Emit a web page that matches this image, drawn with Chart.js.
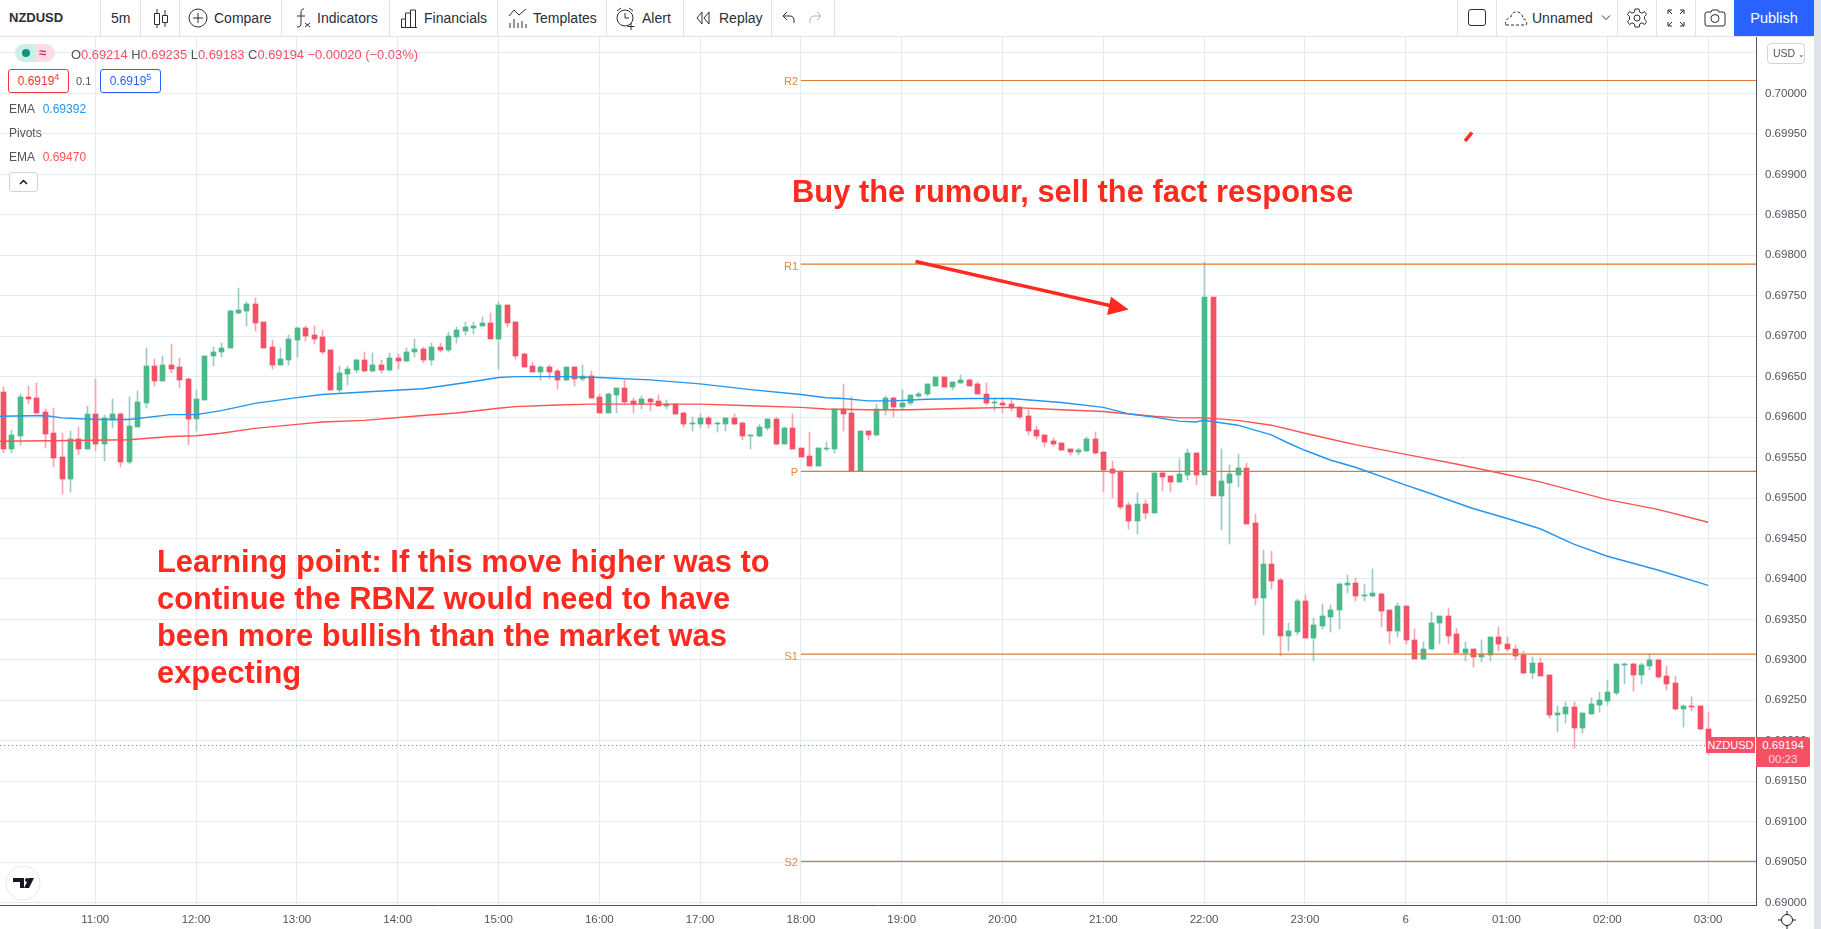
<!DOCTYPE html>
<html>
<head>
<meta charset="utf-8">
<title>NZDUSD 5m</title>
<script src="https://cdn.jsdelivr.net/npm/chart.js@4/dist/chart.umd.min.js"></script>
<style>
    html, body { margin: 0; padding: 0; background: #fff; overflow: hidden; width: 1821px; height: 929px; font-family: "Liberation Sans", sans-serif; color: #131722; }
    #chart { position: absolute; left: 0; top: 0; }
    .abs { position: absolute; white-space: nowrap; }
    #toolbar { position: absolute; left: 0; top: 0; width: 1814px; height: 36px; background: #fff; border-bottom: 1px solid #e0e3eb; box-sizing: content-box; }
    #toolbar .sep { position: absolute; top: 0; width: 1px; height: 36px; background: #e0e3eb; }
    #toolbar .item { position: absolute; top: 10px; font-size: 14px; line-height: 16px; white-space: nowrap; color: #2a2e39; }
    #toolbar svg { position: absolute; fill: none; stroke: #2a2e39; stroke-width: 1; }
    #publish { position: absolute; left: 1734px; top: 0; width: 80px; height: 36px; line-height: 36px; text-align: center; color: #fff; background: #2962ff; font-size: 14.5px; }
    #strip { position: absolute; left: 1814px; top: 0; width: 7px; height: 929px; background: #e0e3eb; }
    .leg { font-size: 12px; line-height: 14px; color: #50535e; }
    .pivot { font-size: 11px; line-height: 12px; color: #e08a42; text-align: right; width: 20px; left: 778px; }
    .note { color: #ff2a1f; font-weight: bold; font-size: 30.9px; line-height: 37px; }
</style>
</head>
<body>
<canvas id="chart" width="1814" height="929"></canvas>

<div id="toolbar">
    <div class="item" style="left:9px;font-weight:bold;font-size:13px">NZDUSD</div>
    <div class="sep" style="left:100px"></div>
    <div class="item" style="left:111px">5m</div>
    <div class="sep" style="left:140px"></div>
    <svg style="left:152px;top:7px" width="18" height="22"><path d="M2.5 6.5h5v11h-5zM5 2v4M5 18v3M10.5 8.5h5v7h-5zM13 3v5M13 16v4"/></svg>
    <div class="sep" style="left:179px"></div>
    <svg style="left:188px;top:8px" width="20" height="20"><circle cx="10" cy="10" r="9"/><path d="M10 5v10M5 10h10"/></svg>
    <div class="item" style="left:214px">Compare</div>
    <div class="sep" style="left:281px"></div>
    <svg style="left:293px;top:6px" width="20" height="24"><path d="M11 3c-3 0-3 2-3 5v9c0 3-1 4-4 4M4 10h8M12 17l5 4M17 17l-5 4"/></svg>
    <div class="item" style="left:317px">Indicators</div>
    <div class="sep" style="left:389px"></div>
    <svg style="left:400px;top:8px" width="18" height="20"><path d="M1.5 19v-8h4v8M5.5 19V5h5v14M10.5 19V2h5v17M1 19.5h16"/></svg>
    <div class="item" style="left:424px">Financials</div>
    <div class="sep" style="left:497px"></div>
    <svg style="left:508px;top:7px" width="20" height="22"><path d="M1 9l5-6 5 5 7-6M2 21v-5M6 21v-9M10 21v-5M14 21v-7M18 21v-4"/></svg>
    <div class="item" style="left:533px">Templates</div>
    <div class="sep" style="left:606px"></div>
    <svg style="left:615px;top:6px" width="22" height="24"><circle cx="10" cy="12" r="8"/><path d="M10 7v5h4M2 5l4-3M14 2l4 3M16 17v7M12.5 20.5h7"/></svg>
    <div class="item" style="left:642px">Alert</div>
    <div class="sep" style="left:683px"></div>
    <svg style="left:695px;top:10px" width="18" height="16"><path d="M7 2L2 8l5 6zM14 2L9 8l5 6z"/></svg>
    <div class="item" style="left:719px">Replay</div>
    <div class="sep" style="left:771px"></div>
    <svg style="left:782px;top:11px" width="14" height="14"><path d="M5 1L1 5l4 4M1 5h7c3 0 4 2 4 5v2"/></svg>
    <svg style="left:808px;top:11px;stroke:#b2b5be" width="14" height="14"><path d="M9 1l4 4-4 4M13 5H6C3 5 2 7 2 10v2"/></svg>
    <div class="sep" style="left:834px"></div>

    <div class="sep" style="left:1457px"></div>
    <svg style="left:1467px;top:8px" width="20" height="20"><rect x="1.5" y="1.5" width="17" height="16" rx="2.5"/></svg>
    <div class="sep" style="left:1496px"></div>
    <svg style="left:1503px;top:8px;stroke-dasharray:3 2" width="26" height="20"><path d="M3 17h20c2-3 0-6-3-6 0-5-4-8-8-7-3 1-4 3-4 5-3 0-7 5-5 8z"/></svg>
    <div class="item" style="left:1532px">Unnamed</div>
    <svg style="left:1601px;top:14px" width="10" height="8"><path d="M1 1.5l4 4 4-4"/></svg>
    <div class="sep" style="left:1617px"></div>
    <svg style="left:1627px;top:8px" width="20" height="20"><circle cx="10" cy="10" r="3"/><path d="M8 1h4l.5 3 2.5 1.2 2.5-1.7 2 3-2 2 .2 3 2 2-2 3-2.700-1.700-2.300 1.200-.5 3H8l-.5-3L5 14.800 2.500 16.500l-2-3 2-2V8.500l-2-2 2-3L5 5.200 7.500 4z"/></svg>
    <div class="sep" style="left:1656px"></div>
    <svg style="left:1667px;top:9px" width="18" height="18"><path d="M1 5V1h4M13 1h4v4M17 13v4h-4M5 17H1v-4M1 1l4 4M17 1l-4 4M17 17l-4-4M1 17l4-4"/></svg>
    <div class="sep" style="left:1695px"></div>
    <svg style="left:1704px;top:8px" width="22" height="20"><path d="M3 4h4l1-2h6l1 2h4a2 2 0 0 1 2 2v10a2 2 0 0 1-2 2H3a2 2 0 0 1-2-2V6a2 2 0 0 1 2-2z"/><circle cx="11" cy="10.500" r="4"/></svg>
    <div id="publish">Publish</div>
</div>
<div id="strip"></div>

<!-- legend block -->
<div class="abs" style="left:15px;top:44px;width:20px;height:18px;background:#cdeee9;border-radius:9px 0 0 9px"></div>
<div class="abs" style="left:35px;top:44px;width:20px;height:18px;background:#fcdce6;border-radius:0 9px 9px 0"></div>
<div class="abs" style="left:22px;top:49px;width:8px;height:8px;background:#089981;border-radius:50%"></div>
<div class="abs" style="left:39px;top:45px;font-size:13px;line-height:16px;font-weight:bold;color:#e91e63">≈</div>
<div class="abs leg" style="left:71px;top:48px;font-size:12.900px;color:#f45066"><span style="color:#50535e">O</span>0.69214 <span style="color:#50535e">H</span>0.69235 <span style="color:#50535e">L</span>0.69183 <span style="color:#50535e">C</span>0.69194 −0.00020 (−0.03%)</div>
<div class="abs leg" style="left:8px;top:69px;width:59px;height:22px;line-height:22px;border:1px solid #f23645;border-radius:3px;color:#f23645;text-align:center;background:#fff">0.6919<sup style="font-size:9px;line-height:0">4</sup></div>
<div class="abs leg" style="left:76px;top:74px;font-size:11px">0.1</div>
<div class="abs leg" style="left:100px;top:69px;width:59px;height:22px;line-height:22px;border:1px solid #2962ff;border-radius:3px;color:#2962ff;text-align:center;background:#fff">0.6919<sup style="font-size:9px;line-height:0">5</sup></div>
<div class="abs leg" style="left:9px;top:102px">EMA <span style="color:#2196f3;margin-left:5px">0.69392</span></div>
<div class="abs leg" style="left:9px;top:126px">Pivots</div>
<div class="abs leg" style="left:9px;top:150px">EMA <span style="color:#ff5252;margin-left:5px">0.69470</span></div>
<svg class="abs" style="left:9px;top:172px" width="29" height="20"><rect x=".5" y=".5" width="28" height="19" rx="2.500" fill="#fff" stroke="#d1d4dc"/><path d="M11 12l3.500-3.500L18 12" fill="none" stroke="#131722" stroke-width="1.500"/></svg>

<!-- pivot labels -->
<div class="abs pivot" style="top:75px">R2</div>
<div class="abs pivot" style="top:260px">R1</div>
<div class="abs pivot" style="top:466px">P</div>
<div class="abs pivot" style="top:650px">S1</div>
<div class="abs pivot" style="top:856px">S2</div>

<!-- drawn annotations -->
<div class="abs note" style="left:792px;top:173px">Buy the rumour, sell the fact response</div>
<div class="abs note" style="left:157px;top:543px">Learning point: If this move higher was to<br>continue the RBNZ would need to have<br>been more bullish than the market was<br>expecting</div>
<svg class="abs" style="left:0;top:0;pointer-events:none" width="1814" height="929">
    <line x1="915.500" y1="261.500" x2="1112" y2="306" stroke="#ff2a1f" stroke-width="3.500"/>
    <path d="M1128.700 309.500L1111 296.700 1107 315z" fill="#ff2a1f"/>
    <line x1="1465" y1="141" x2="1472" y2="132.500" stroke="#ff2a1f" stroke-width="3.500"/>
</svg>

<!-- USD button, price tags, corner -->
<div class="abs" style="left:1767px;top:43px;width:36px;height:19px;border:1px solid #d1d4dc;border-radius:4px;font-size:10.500px;line-height:19px;color:#50535e;background:#fff;text-indent:5px;box-sizing:content-box">USD <span style="font-size:8px">⌄</span></div>
<div class="abs" style="left:1706px;top:737px;width:49px;height:16px;line-height:17px;background:#f45066;color:#fff;font-size:11px;text-align:center">NZDUSD</div>
<div class="abs" style="left:1756px;top:737px;width:54px;height:30px;background:#f45066;color:#fff;font-size:11.500px;line-height:14px;text-align:center;border-radius:0 2px 2px 0;padding-top:1px;box-sizing:border-box">0.69194<br><span style="opacity:.75">00:23</span></div>
<div class="abs" style="left:1757px;top:906px;width:57px;height:23px;background:#fff"></div>
<svg class="abs" style="left:1778px;top:911px" width="18" height="18"><circle cx="9" cy="9" r="5.500" fill="none" stroke="#131722"/><path d="M9 0v3M9 15v3M0 9h3M15 9h3" stroke="#131722"/></svg>
<svg class="abs" style="left:5px;top:866px" width="36" height="36"><circle cx="18" cy="17" r="17" fill="#fff" stroke="#e4e6ea"/><path d="M8 12h11v10h-4v-6H8z" fill="#131722"/><circle cx="22" cy="14" r="2" fill="#131722"/><path d="M24 12h5l-5 10h-5z" fill="#131722"/></svg>

<script>
// time labels on the bottom axis, one per hour
const timeLabels = ["11:00", "12:00", "13:00", "14:00", "15:00", "16:00", "17:00", "18:00", "19:00", "20:00", "21:00", "22:00", "23:00", "6", "01:00", "02:00", "03:00"];
const priceTicks = ["0.70050", "0.70000", "0.69950", "0.69900", "0.69850", "0.69800", "0.69750", "0.69700", "0.69650", "0.69600", "0.69550", "0.69500", "0.69450", "0.69400", "0.69350", "0.69300", "0.69250", "0.69200", "0.69150", "0.69100", "0.69050", "0.69000"];

// 5m candles, first one is 10:05
const opens = [
    0.69631, 0.69561, 0.69577, 0.69625, 0.69623, 0.69606, 0.69580, 0.69551, 0.69524, 0.69573, 0.69561,
    0.69604, 0.69567, 0.69597, 0.69604, 0.69545, 0.69588, 0.69617, 0.69663, 0.69644, 0.69665, 0.69662, 0.69647,
    0.69598, 0.69621, 0.69675, 0.69680, 0.69685, 0.69729, 0.69731, 0.69740, 0.69717, 0.69687, 0.69665, 0.69670,
    0.69695, 0.69710, 0.69701, 0.69699, 0.69683, 0.69633, 0.69653, 0.69658, 0.69670, 0.69657, 0.69665, 0.69658,
    0.69673, 0.69669, 0.69680, 0.69684, 0.69670, 0.69687, 0.69683, 0.69699, 0.69707, 0.69710, 0.69712, 0.69716,
    0.69697, 0.69739, 0.69717, 0.69678, 0.69663, 0.69656, 0.69662, 0.69657, 0.69646, 0.69662, 0.69647, 0.69651,
    0.69625, 0.69605, 0.69627, 0.69636, 0.69620, 0.69616, 0.69622, 0.69620, 0.69614, 0.69616, 0.69605, 0.69592,
    0.69592, 0.69599, 0.69592, 0.69592, 0.69599, 0.69593, 0.69577, 0.69577, 0.69587, 0.69598, 0.69567, 0.69587,
    0.69562, 0.69552, 0.69539, 0.69561, 0.69561, 0.69610, 0.69605, 0.69533, 0.69583, 0.69578, 0.69609, 0.69623,
    0.69613, 0.69617, 0.69626, 0.69628, 0.69639, 0.69650, 0.69637, 0.69642, 0.69646, 0.69641, 0.69629, 0.69617,
    0.69618, 0.69616, 0.69612, 0.69601, 0.69584, 0.69578, 0.69570, 0.69568, 0.69561, 0.69557, 0.69558, 0.69573,
    0.69557, 0.69536, 0.69533, 0.69491, 0.69472, 0.69493, 0.69482, 0.69531, 0.69527, 0.69520, 0.69529, 0.69556,
    0.69529, 0.69749, 0.69503, 0.69519, 0.69529, 0.69537, 0.69469, 0.69377, 0.69418, 0.69399, 0.69329, 0.69335,
    0.69373, 0.69327, 0.69342, 0.69353, 0.69361, 0.69393, 0.69395, 0.69379, 0.69379, 0.69381, 0.69361, 0.69336,
    0.69367, 0.69325, 0.69301, 0.69313, 0.69345, 0.69354, 0.69332, 0.69309, 0.69314, 0.69303, 0.69306, 0.69328,
    0.69320, 0.69314, 0.69306, 0.69284, 0.69296, 0.69281, 0.69232, 0.69233, 0.69242, 0.69216, 0.69233, 0.69244,
    0.69249, 0.69259, 0.69293, 0.69295, 0.69281, 0.69292, 0.69300, 0.69280, 0.69271, 0.69239, 0.69243, 0.69243, 0.69214
];
const highs = [
    0.69637, 0.69584, 0.69628, 0.69639, 0.69642, 0.69610, 0.69611, 0.69580, 0.69583, 0.69588, 0.69614,
    0.69647, 0.69603, 0.69622, 0.69605, 0.69625, 0.69632, 0.69686, 0.69672, 0.69676, 0.69690, 0.69673, 0.69648,
    0.69633, 0.69676, 0.69687, 0.69692, 0.69732, 0.69760, 0.69742, 0.69747, 0.69718, 0.69695, 0.69686, 0.69702,
    0.69711, 0.69713, 0.69712, 0.69708, 0.69683, 0.69663, 0.69663, 0.69672, 0.69681, 0.69679, 0.69670, 0.69679,
    0.69678, 0.69686, 0.69696, 0.69687, 0.69692, 0.69691, 0.69705, 0.69711, 0.69718, 0.69717, 0.69724, 0.69729,
    0.69742, 0.69739, 0.69718, 0.69679, 0.69668, 0.69663, 0.69664, 0.69659, 0.69662, 0.69662, 0.69665, 0.69657,
    0.69628, 0.69630, 0.69636, 0.69646, 0.69624, 0.69626, 0.69624, 0.69627, 0.69621, 0.69616, 0.69606, 0.69600,
    0.69604, 0.69601, 0.69594, 0.69599, 0.69604, 0.69594, 0.69578, 0.69592, 0.69598, 0.69600, 0.69588, 0.69604,
    0.69562, 0.69582, 0.69562, 0.69569, 0.69610, 0.69641, 0.69625, 0.69583, 0.69583, 0.69616, 0.69626, 0.69625,
    0.69633, 0.69627, 0.69631, 0.69641, 0.69650, 0.69650, 0.69643, 0.69652, 0.69647, 0.69643, 0.69642, 0.69623,
    0.69623, 0.69623, 0.69613, 0.69609, 0.69589, 0.69578, 0.69574, 0.69568, 0.69561, 0.69562, 0.69575, 0.69582,
    0.69557, 0.69546, 0.69533, 0.69495, 0.69506, 0.69498, 0.69533, 0.69534, 0.69527, 0.69548, 0.69561, 0.69556,
    0.69792, 0.69749, 0.69560, 0.69541, 0.69554, 0.69543, 0.69480, 0.69436, 0.69434, 0.69401, 0.69346, 0.69375,
    0.69380, 0.69352, 0.69369, 0.69368, 0.69395, 0.69405, 0.69401, 0.69394, 0.69412, 0.69382, 0.69361, 0.69370,
    0.69367, 0.69338, 0.69322, 0.69359, 0.69354, 0.69364, 0.69339, 0.69322, 0.69314, 0.69324, 0.69328, 0.69340,
    0.69328, 0.69318, 0.69311, 0.69304, 0.69302, 0.69281, 0.69243, 0.69248, 0.69248, 0.69234, 0.69253, 0.69260,
    0.69275, 0.69295, 0.69296, 0.69296, 0.69296, 0.69307, 0.69301, 0.69292, 0.69280, 0.69244, 0.69254, 0.69243, 0.69235
];
const lows = [
    0.69556, 0.69556, 0.69566, 0.69616, 0.69605, 0.69562, 0.69538, 0.69505, 0.69508, 0.69553, 0.69561,
    0.69558, 0.69546, 0.69587, 0.69538, 0.69542, 0.69611, 0.69611, 0.69639, 0.69644, 0.69654, 0.69636, 0.69565,
    0.69583, 0.69621, 0.69663, 0.69674, 0.69685, 0.69728, 0.69713, 0.69706, 0.69686, 0.69659, 0.69665, 0.69664,
    0.69674, 0.69694, 0.69690, 0.69678, 0.69633, 0.69630, 0.69640, 0.69654, 0.69656, 0.69656, 0.69654, 0.69657,
    0.69660, 0.69668, 0.69674, 0.69667, 0.69665, 0.69680, 0.69681, 0.69691, 0.69702, 0.69703, 0.69712, 0.69697,
    0.69659, 0.69711, 0.69672, 0.69662, 0.69656, 0.69646, 0.69647, 0.69635, 0.69644, 0.69639, 0.69644, 0.69624,
    0.69605, 0.69605, 0.69605, 0.69616, 0.69605, 0.69610, 0.69608, 0.69614, 0.69610, 0.69604, 0.69588, 0.69583,
    0.69587, 0.69587, 0.69582, 0.69583, 0.69590, 0.69572, 0.69560, 0.69576, 0.69584, 0.69566, 0.69567, 0.69561,
    0.69551, 0.69539, 0.69539, 0.69558, 0.69556, 0.69583, 0.69533, 0.69533, 0.69572, 0.69577, 0.69602, 0.69600,
    0.69609, 0.69615, 0.69623, 0.69626, 0.69638, 0.69637, 0.69634, 0.69642, 0.69639, 0.69628, 0.69615, 0.69607,
    0.69605, 0.69607, 0.69598, 0.69578, 0.69573, 0.69563, 0.69564, 0.69558, 0.69553, 0.69553, 0.69558, 0.69555,
    0.69508, 0.69500, 0.69486, 0.69462, 0.69456, 0.69474, 0.69482, 0.69509, 0.69508, 0.69520, 0.69522, 0.69516,
    0.69529, 0.69503, 0.69460, 0.69443, 0.69513, 0.69468, 0.69368, 0.69331, 0.69388, 0.69305, 0.69311, 0.69331,
    0.69327, 0.69299, 0.69338, 0.69334, 0.69338, 0.69383, 0.69373, 0.69373, 0.69378, 0.69341, 0.69320, 0.69328,
    0.69320, 0.69301, 0.69300, 0.69313, 0.69319, 0.69320, 0.69309, 0.69298, 0.69291, 0.69297, 0.69298, 0.69311,
    0.69311, 0.69300, 0.69282, 0.69276, 0.69280, 0.69228, 0.69211, 0.69222, 0.69191, 0.69209, 0.69233, 0.69236,
    0.69244, 0.69257, 0.69270, 0.69261, 0.69270, 0.69288, 0.69277, 0.69263, 0.69238, 0.69217, 0.69237, 0.69213, 0.69183
];
const closes = [
    0.69561, 0.69578, 0.69625, 0.69622, 0.69605, 0.69579, 0.69549, 0.69524, 0.69573, 0.69561, 0.69604,
    0.69567, 0.69599, 0.69604, 0.69545, 0.69589, 0.69619, 0.69663, 0.69644, 0.69665, 0.69660, 0.69646, 0.69598,
    0.69622, 0.69676, 0.69681, 0.69686, 0.69731, 0.69732, 0.69740, 0.69716, 0.69686, 0.69665, 0.69672, 0.69696,
    0.69710, 0.69700, 0.69697, 0.69681, 0.69633, 0.69654, 0.69659, 0.69670, 0.69657, 0.69665, 0.69658, 0.69673,
    0.69669, 0.69681, 0.69684, 0.69670, 0.69687, 0.69683, 0.69700, 0.69708, 0.69711, 0.69713, 0.69716, 0.69697,
    0.69739, 0.69716, 0.69676, 0.69662, 0.69656, 0.69662, 0.69656, 0.69646, 0.69662, 0.69647, 0.69651, 0.69624,
    0.69605, 0.69628, 0.69636, 0.69619, 0.69616, 0.69622, 0.69619, 0.69614, 0.69616, 0.69604, 0.69592, 0.69593,
    0.69599, 0.69592, 0.69593, 0.69599, 0.69592, 0.69577, 0.69578, 0.69588, 0.69598, 0.69567, 0.69587, 0.69561,
    0.69551, 0.69539, 0.69562, 0.69562, 0.69610, 0.69604, 0.69533, 0.69583, 0.69578, 0.69610, 0.69623, 0.69613,
    0.69618, 0.69627, 0.69629, 0.69641, 0.69650, 0.69637, 0.69643, 0.69646, 0.69639, 0.69628, 0.69617, 0.69618,
    0.69615, 0.69611, 0.69600, 0.69583, 0.69577, 0.69569, 0.69567, 0.69559, 0.69557, 0.69559, 0.69573, 0.69556,
    0.69535, 0.69531, 0.69489, 0.69472, 0.69493, 0.69482, 0.69531, 0.69526, 0.69520, 0.69530, 0.69556, 0.69529,
    0.69749, 0.69503, 0.69521, 0.69530, 0.69537, 0.69468, 0.69377, 0.69418, 0.69398, 0.69329, 0.69336, 0.69373,
    0.69327, 0.69343, 0.69354, 0.69362, 0.69394, 0.69395, 0.69379, 0.69380, 0.69382, 0.69360, 0.69336, 0.69367,
    0.69324, 0.69301, 0.69314, 0.69346, 0.69354, 0.69330, 0.69309, 0.69314, 0.69303, 0.69307, 0.69328, 0.69319,
    0.69313, 0.69305, 0.69284, 0.69296, 0.69280, 0.69232, 0.69234, 0.69242, 0.69216, 0.69234, 0.69245, 0.69250,
    0.69260, 0.69295, 0.69295, 0.69281, 0.69293, 0.69300, 0.69279, 0.69270, 0.69239, 0.69243, 0.69242, 0.69215, 0.69194
];

// EMAs read at candle numbers (0 = 11:00 candle)
const emaBlueAt = [-12, -6, -4, 0, 4, 9, 12, 15, 19, 24, 27, 32, 39, 45, 48, 50, 56, 60, 66, 72, 78, 84, 87, 89, 92, 95, 99, 104, 109, 115, 120, 123, 126, 129, 131, 132, 134, 136, 140, 142, 144, 147, 150, 156, 158, 164, 168, 172, 176, 180, 186, 192];
const emaBlue = [0.69601, 0.69602, 0.69599, 0.69597, 0.69597, 0.69603, 0.69603, 0.69608, 0.69617, 0.69624, 0.69628, 0.69631, 0.69635, 0.69644, 0.69649, 0.69650, 0.69650, 0.69649, 0.69646, 0.69641, 0.69634, 0.69628, 0.69624, 0.69623, 0.69620, 0.69620, 0.69622, 0.69623, 0.69623, 0.69618, 0.69612, 0.69604, 0.69600, 0.69595, 0.69594, 0.69596, 0.69593, 0.69590, 0.69578, 0.69568, 0.69559, 0.69547, 0.69538, 0.69516, 0.69509, 0.69487, 0.69475, 0.69462, 0.69443, 0.69428, 0.69411, 0.69392];
const emaRedAt = [-12, -3, 4, 9, 12, 15, 19, 24, 27, 32, 39, 43, 48, 50, 55, 59, 66, 72, 78, 84, 87, 92, 97, 104, 109, 115, 120, 126, 129, 132, 136, 140, 144, 147, 150, 156, 162, 168, 172, 180, 186, 192];
const emaRed = [0.69570, 0.69571, 0.69572, 0.69576, 0.69577, 0.69580, 0.69586, 0.69591, 0.69594, 0.69596, 0.69602, 0.69605, 0.69611, 0.69613, 0.69615, 0.69616, 0.69616, 0.69616, 0.69614, 0.69612, 0.69610, 0.69609, 0.69609, 0.69611, 0.69612, 0.69609, 0.69607, 0.69601, 0.69599, 0.69599, 0.69596, 0.69590, 0.69580, 0.69573, 0.69566, 0.69554, 0.69542, 0.69529, 0.69520, 0.69498, 0.69486, 0.69470];

const pivotNames = ["R2", "R1", "P", "S1", "S2"];
const pivotValues = [0.70016, 0.69789, 0.69533, 0.69307, 0.69051];
const lastPrice = 0.69194;

const UP = "#4bb98a";
const DOWN = "#f45066";
const UP_WICK = "#9dc9c6";
const DOWN_WICK = "#f8a3ae";
const GRID = "#e2ebf1";
const AXIS_TEXT = "#50535e";

const FIRST_CANDLE = -11;
const PIVOT_START = 84;
const X_MIN = -11.34;
const X_MAX = 197.7;

const isUp = i => closes[i] >= opens[i];
const candleX = i => i + FIRST_CANDLE;

// TradingView snaps candles to whole pixels, so do the same
const snapCandles = {
    id: "snapCandles",
    afterDatasetsUpdate(chart) {
        chart.data.datasets.forEach((ds, d) => {
            if (ds.type !== "bar") return;
            chart.getDatasetMeta(d).data.forEach(bar => {
                bar.x = Math.round(bar.x) + 0.5;
                bar.y = Math.round(bar.y);
                bar.base = Math.round(bar.base);
                if (bar.y === bar.base) bar.base = bar.y + 1;
            });
        });
    }
};

const wickData = highs.map((h, i) => ({ x: candleX(i), y: [lows[i], h] }));
const bodyData = opens.map((o, i) => ({ x: candleX(i), y: [o, closes[i]] }));

const lineStyle = { type: "line", pointRadius: 0, tension: 0, fill: false, order: 0 };

const datasets = [
    { ...lineStyle, label: "EMA blue", data: emaBlue.map((v, i) => ({ x: emaBlueAt[i], y: v })), borderColor: "#2196f3", borderWidth: 1.4 },
    { ...lineStyle, label: "EMA red", data: emaRed.map((v, i) => ({ x: emaRedAt[i], y: v })), borderColor: "#ff5252", borderWidth: 1.4 },
    { ...lineStyle, label: "Last price", data: [{ x: X_MIN, y: lastPrice }, { x: X_MAX, y: lastPrice }], borderColor: DOWN, borderWidth: 1, borderDash: [1, 3] }
];

pivotValues.forEach((v, i) => {
    datasets.push({ ...lineStyle, label: pivotNames[i], data: [{ x: PIVOT_START, y: v }, { x: X_MAX, y: v }], borderColor: "#dd7a33", borderWidth: 1.2 });
});

datasets.push({
    type: "bar",
    label: "Bodies",
    data: bodyData,
    backgroundColor: opens.map((_, i) => isUp(i) ? UP : DOWN),
    barThickness: 5,
    minBarLength: 1,
    grouped: false,
    order: 1
});
datasets.push({
    type: "bar",
    label: "Wicks",
    data: wickData,
    backgroundColor: opens.map((_, i) => isUp(i) ? UP_WICK : DOWN_WICK),
    barThickness: 1,
    grouped: false,
    order: 2
});

new Chart(document.getElementById("chart"), {
    type: "bar",
    data: { datasets },
    plugins: [snapCandles],
    options: {
        responsive: false,
        animation: false,
        layout: { padding: { top: 36, left: 0, right: 0, bottom: 0 } },
        plugins: { legend: { display: false }, tooltip: { enabled: false } },
        scales: {
            x: {
                type: "linear",
                offset: false,
                min: X_MIN,
                max: X_MAX,
                afterBuildTicks(scale) {
                    scale.ticks = timeLabels.map((_, i) => ({ value: i * 12 }));
                },
                afterFit(scale) { scale.height = 24; },
                grid: { color: GRID, drawTicks: false, offset: false },
                border: { color: AXIS_TEXT, width: 1 },
                ticks: {
                    color: AXIS_TEXT,
                    font: { family: "Liberation Sans", size: 11.5 },
                    maxRotation: 0,
                    autoSkip: false,
                    padding: 8,
                    callback: (value) => timeLabels[value / 12]
                }
            },
            y: {
                position: "right",
                min: 0.68997,
                max: 0.70071,
                afterBuildTicks(scale) {
                    scale.ticks = priceTicks.map(t => ({ value: parseFloat(t) }));
                },
                afterFit(scale) { scale.width = 58; },
                grid: { color: GRID, drawTicks: false },
                border: { color: AXIS_TEXT, width: 1 },
                ticks: {
                    color: AXIS_TEXT,
                    font: { family: "Liberation Sans", size: 11.5 },
                    padding: 9,
                    autoSkip: false,
                    // 0.70050 sits behind the USD button in the screenshot
                    callback: (value) => value === 0.7005 ? "" : value.toFixed(5)
                }
            }
        }
    }
});
</script>
</body>
</html>
